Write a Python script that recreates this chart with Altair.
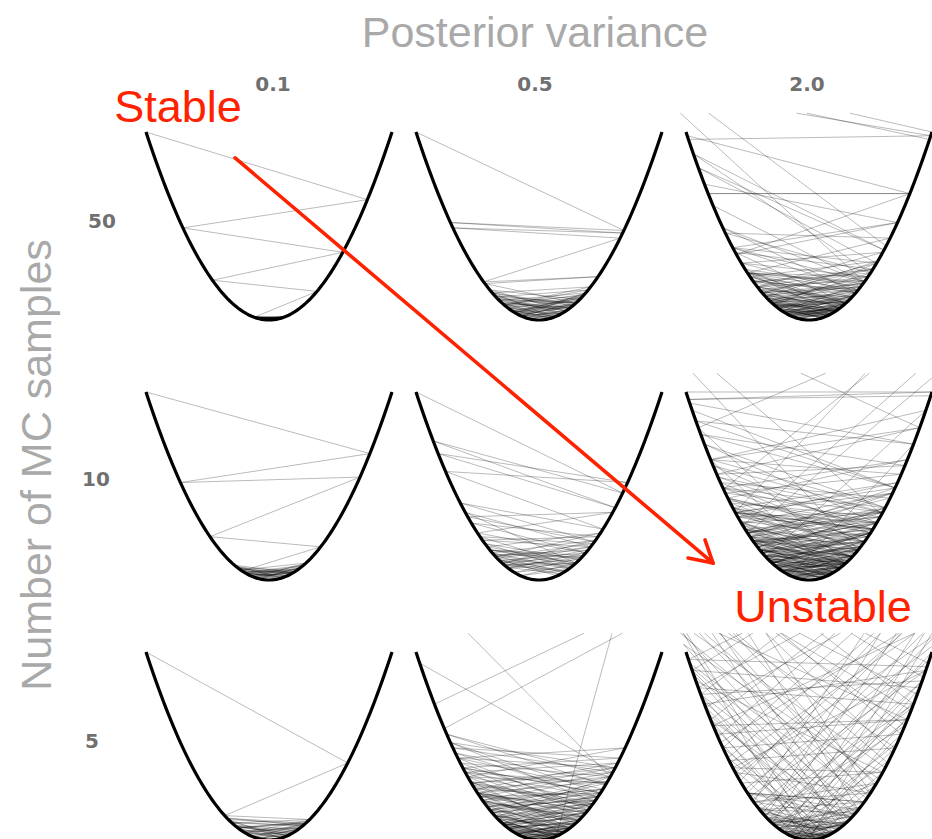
import altair as alt
import pandas as pd

# ---------------- data ----------------
VARIANCE_LABELS = ["0.1", "0.5", "2.0"]          # columns
SAMPLE_LABELS = ["50", "10", "5"]                # rows

# Iterates x_t of the optimiser on f(x) = x^2, one list per run.
# Consecutive iterates are joined by a chord of the parabola.
P_50_01 = [[-1.0, 0.80, -0.70, 0.60, -0.46, 0.39, -0.12, 0.10, -0.14, 0.08, -0.11, 0.13,
            -0.07, 0.12, -0.10, 0.06, -0.13, 0.11, -0.05, 0.09, -0.12, 0.14, -0.08, 0.04,
            -0.10, 0.12, -0.09, 0.07, -0.11, 0.10, -0.06, 0.13, -0.12, 0.08]]
P_10_01 = [[-1.0, 0.82, -0.72, 0.74, -0.48, 0.42, -0.22, 0.20, -0.25, 0.18, -0.15, 0.28,
            -0.20, 0.12, -0.26, 0.22, -0.10, 0.25, -0.18, 0.15, -0.23, 0.30, -0.12, 0.20,
            -0.28, 0.10, -0.20, 0.24, -0.16, 0.19, -0.24, 0.08, -0.14, 0.21, -0.19, 0.27,
            -0.08, 0.17]]
P_5_01 = [[-1.0, 0.64, -0.36, 0.33, -0.30, 0.28, -0.34, 0.30, -0.25, 0.32, -0.20, 0.27,
           -0.31, 0.15, -0.28, 0.24, -0.12, 0.30, -0.26, 0.20, -0.18, 0.29, -0.33, 0.10,
           -0.22, 0.26, -0.15, 0.22, -0.27, 0.18, -0.08, 0.25, -0.20, 0.12, -0.24, 0.16,
           -0.10, 0.20]]
P_50_05 = [[-1.0, 0.69, -0.72, 0.68, -0.70, 0.66, -0.45, 0.48, -0.44, 0.30, -0.35, 0.40,
            -0.28, 0.42, -0.38, 0.25, -0.30, 0.36, -0.20, 0.33, -0.40, 0.22, -0.32, 0.38,
            -0.15, 0.30, -0.36, 0.18, -0.25, 0.34, -0.22, 0.28, -0.38, 0.12, -0.30, 0.26,
            -0.18, 0.35, -0.27, 0.20, -0.33, 0.30, -0.10, 0.24, -0.28, 0.37, -0.20, 0.15,
            -0.26, 0.32, -0.14, 0.22, -0.34, 0.28, -0.24, 0.10, -0.20, 0.27, -0.16, 0.12,
            -0.22, 0.18, -0.08, 0.20, -0.15, 0.10]]
P_10_05 = [[-1.0, 0.68, -0.86, 0.62, -0.82, 0.72, -0.76, 0.52, -0.64, 0.45, -0.58, 0.60,
            -0.50, 0.38, -0.55, 0.48, -0.46, 0.42, -0.60, 0.30, -0.42, 0.50, -0.35, 0.44,
            -0.48, 0.28, -0.40, 0.36, -0.30, 0.46, -0.38, 0.25, -0.44, 0.33, -0.28, 0.40,
            -0.36, 0.20, -0.32, 0.38, -0.25, 0.30, -0.40, 0.34, -0.20, 0.27, -0.34, 0.42,
            -0.30, 0.18, -0.26, 0.35, -0.37, 0.24, -0.15, 0.30, -0.28, 0.22, -0.33, 0.15]]
P_5_05 = [[-0.97, 0.60, -0.70, 0.66, -0.62, 0.50, -0.72, 0.45, -0.55, 0.62, -0.50, 0.40,
           -0.66, 0.52, -0.45, 0.35, -0.60, 0.55, -0.40, 0.48, -0.52, 0.30, -0.46, 0.58,
           -0.35, 0.42, -0.56, 0.25, -0.42, 0.50, -0.30, 0.38, -0.48, 0.44, -0.25, 0.32,
           -0.50, 0.20, -0.38, 0.46, -0.28, 0.35, -0.44, 0.15, -0.32, 0.40, -0.20, 0.28,
           -0.36, 0.22, -0.15, 0.34, -0.30, 0.10, -0.26, 0.30, -0.18, 0.24, -0.34, 0.12,
           -0.22, 0.27, -0.10, 0.20, -0.28, 0.16, -0.14, 0.25, -0.20, 0.08, -0.16, 0.18,
           -0.24, 0.10, -0.12, 0.20, -0.06, 0.14],
          [-0.72, 0.62, -0.66, 0.70, -0.58, 0.55, -0.68, 0.48, -0.60, 0.64, -0.52, 0.58,
           -0.64, 0.42, -0.55, 0.60, -0.48, 0.50, -0.62, 0.38, -0.50, 0.56, -0.42, 0.46,
           -0.58, 0.32, -0.46, 0.52, -0.38, 0.44, -0.54, 0.28, -0.40, 0.48, -0.34, 0.40,
           -0.50, 0.24, -0.36, 0.44, -0.28, 0.36, -0.45, 0.20, -0.30, 0.38, -0.24, 0.32,
           -0.40, 0.16, -0.26, 0.30, -0.18, 0.26, -0.34, 0.12, -0.20, 0.22, -0.10, 0.18],
          [-1.24, 0.58, -0.75, 0.54],
          [-0.85, 1.16],
          [-0.77, 1.12],
          [2.24, 0.14, -0.30, 0.20]]
P_50_2 = [[-0.99, 0.82, -0.82, 0.82, -0.59, 0.72, -0.62, 0.55, -0.90, 0.61, -0.94, 0.50,
           -0.68, 0.66, -0.50, 0.45, -0.70, 0.38, -0.55, 0.60, -0.42, 0.52, -0.60, 0.30,
           -0.48, 0.56, -0.35, 0.40, -0.62, 0.45, -0.30, 0.50, -0.45, 0.25, -0.52, 0.42,
           -0.38, 0.55, -0.28, 0.35, -0.50, 0.20, -0.40, 0.48, -0.32, 0.30, -0.46, 0.38,
           -0.22, 0.44, -0.36, 0.15, -0.30, 0.40, -0.25, 0.32, -0.42, 0.26, -0.18, 0.36,
           -0.34, 0.22, -0.28, 0.30, -0.12, 0.25, -0.38, 0.18, -0.20, 0.34, -0.26, 0.10,
           -0.30, 0.24, -0.15, 0.28, -0.22, 0.16, -0.32, 0.20, -0.08, 0.26, -0.18, 0.12,
           -0.24, 0.22, -0.14, 0.30, -0.10, 0.18],
          [-0.55, 0.48, -0.50, 0.40, -0.45, 0.52, -0.38, 0.44, -0.50, 0.30, -0.42, 0.46,
           -0.32, 0.38, -0.48, 0.28, -0.36, 0.42, -0.26, 0.35, -0.40, 0.22, -0.30, 0.36,
           -0.20, 0.30, -0.34, 0.18, -0.25, 0.32, -0.16, 0.26, -0.28, 0.14, -0.20, 0.24,
           -0.10, 0.20, -0.22, 0.12],
          [-1.117, 0.627], [-0.98, 0.99], [-1.10, 0.99], [-1.12, 0.98], [-1.15, 1.0],
          [-0.85, 0.72], [-0.78, 0.45], [-1.05, 0.45]]
P_10_2 = [[-0.97, 0.85, -0.92, 0.70, -0.88, 0.78, -0.75, 0.90, -0.80, 0.62, -0.85, 0.55,
           -0.70, 0.80, -0.66, 0.50, -0.78, 0.60, -0.58, 0.72, -0.62, 0.45, -0.72, 0.66,
           -0.50, 0.58, -0.64, 0.40, -0.55, 0.68, -0.45, 0.52, -0.60, 0.35, -0.50, 0.60,
           -0.40, 0.48, -0.56, 0.30, -0.44, 0.55, -0.35, 0.42, -0.52, 0.25, -0.38, 0.50,
           -0.30, 0.44, -0.48, 0.20, -0.42, 0.36, -0.25, 0.46, -0.36, 0.30, -0.46, 0.15,
           -0.32, 0.40, -0.20, 0.34, -0.40, 0.26, -0.28, 0.38, -0.15, 0.30, -0.36, 0.20,
           -0.22, 0.32, -0.30, 0.10, -0.26, 0.28, -0.12, 0.22, -0.32, 0.16, -0.20, 0.26,
           -0.08, 0.18, -0.24, 0.12, -0.16, 0.20, -0.10, 0.14],
          [0.95, -0.80, 0.75, -0.68, 0.60, -0.74, 0.52, -0.60, 0.70, -0.48, 0.56, -0.42,
           0.62, -0.38, 0.45, -0.52, 0.35, -0.46, 0.40, -0.30, 0.50, -0.34, 0.28, -0.40,
           0.36, -0.22, 0.30, -0.28, 0.18, -0.34, 0.24, -0.14, 0.26, -0.20, 0.12],
          [-0.65, 0.55, -0.60, 0.68, -0.50, 0.62, -0.70, 0.45, -0.58, 0.52, -0.66, 0.40,
           -0.48, 0.60, -0.55, 0.35, -0.62, 0.50, -0.42, 0.58, -0.52, 0.30, -0.45, 0.55,
           -0.38, 0.48, -0.60, 0.42, -0.32, 0.50, -0.46, 0.38, -0.54, 0.28, -0.40, 0.45,
           -0.30, 0.52, -0.44, 0.32, -0.36, 0.40, -0.26, 0.34, -0.48, 0.25, -0.34, 0.42,
           -0.22, 0.30, -0.40, 0.20, -0.28, 0.36, -0.18, 0.26, -0.32, 0.15, -0.24, 0.30,
           -0.12, 0.20],
          [-1.151, 0.591], [-0.695, 1.215], [-0.538, 1.114], [-1.0, 1.0, -0.98, 0.99],
          [-1.20, 0.90], [-0.90, 1.18], [1.30, -0.60], [-0.90, 0.30], [0.95, -0.35],
          [-0.80, 0.20], [0.85, -0.15], [-1.10, 0.40], [1.05, -0.50], [0.70, -0.95]]
P_5_2 = [[-0.95, 1.35], [-0.88, 1.38], [-0.80, 1.30], [-0.72, 1.12], [-0.66, 1.22],
         [-0.60, 1.05], [-0.52, 1.02], [-0.46, 1.10], [-0.40, 0.85], [-0.33, 0.92],
         [-0.27, 0.80], [-0.20, 0.72], [-0.12, 0.75], [-0.05, 0.60], [-0.90, 1.25],
         [-0.70, 1.28], [-0.58, 1.15], [-0.42, 0.98], [-0.30, 1.00], [-0.15, 0.90],
         [-0.62, 0.95], [-0.36, 0.78], [-0.24, 0.92], [-0.08, 0.70], [-0.50, 1.18],
         [-0.78, 1.08],
         [0.93, -1.33], [0.85, -1.35], [0.78, -1.25], [0.70, -1.15], [0.64, -1.20],
         [0.57, -1.02], [0.50, -1.05], [0.44, -1.12], [0.38, -0.88], [0.31, -0.95],
         [0.25, -0.82], [0.18, -0.70], [0.10, -0.78], [0.03, -0.62], [0.88, -1.22],
         [0.68, -1.30], [0.55, -1.12], [0.40, -0.96], [0.28, -1.02], [0.13, -0.88],
         [0.60, -0.92], [0.34, -0.80], [0.22, -0.94], [0.06, -0.72], [0.48, -1.20],
         [0.80, -1.10],
         [-0.98, 1.30], [-0.84, 1.20], [-0.74, 1.32], [-0.64, 1.10], [-0.56, 1.25],
         [-0.48, 0.95], [-0.38, 1.05], [-0.32, 0.84], [-0.22, 0.86], [-0.18, 0.65],
         [-0.02, 0.82], [0.05, 0.55],
         [0.97, -1.28], [0.83, -1.22], [0.75, -1.30], [0.62, -1.08], [0.54, -1.24],
         [0.47, -0.97], [0.36, -1.06], [0.30, -0.86], [0.20, -0.84], [0.16, -0.66],
         [0.02, -0.80], [-0.06, -0.52],
         [-0.20, 1.20], [0.25, -1.25], [-0.10, 1.15], [0.05, -1.10], [-0.35, 1.40],
         [0.40, -1.45], [-0.30, 1.30], [0.32, -1.28], [-0.45, 1.45], [0.50, -1.50],
         [0.00, 1.10], [-0.05, -1.08],
         [-0.95, 0.90], [-0.85, 0.95], [-0.70, 0.75], [0.80, -0.75], [-0.55, 0.60],
         [0.45, -0.50], [-0.98, 0.96], [-0.90, 0.85], [-0.78, 0.80], [-0.65, 0.70],
         [-0.50, 0.45], [0.60, -0.62], [0.92, -0.88], [-0.40, 0.38], [0.30, -0.32],
         [-0.60, 0.50, -0.45, 0.55, -0.30, 0.40, -0.50, 0.35, -0.25, 0.45, -0.40, 0.20,
          -0.35, 0.30, -0.15, 0.38, -0.28, 0.25, -0.42, 0.15, -0.20, 0.32, -0.10, 0.22,
          -0.30, 0.12, -0.18, 0.28, -0.24, 0.08, -0.14, 0.20, -0.05, 0.16, -0.22, 0.10],
         [-0.45, 0.35, -0.30, 0.42, -0.20, 0.28, -0.38, 0.18, -0.12, 0.30, -0.26, 0.14,
          -0.34, 0.24, -0.08, 0.20, -0.18, 0.10]]

PANELS = {
    (0, 0): P_50_01, (0, 1): P_50_05, (0, 2): P_50_2,
    (1, 0): P_10_01, (1, 1): P_10_05, (1, 2): P_10_2,
    (2, 0): P_5_01, (2, 1): P_5_05, (2, 2): P_5_2,
}

# sampling of the objective curve x in [-1, 1]
PARABOLA_X = [round(-1 + i * 0.02, 2) for i in range(101)]

# ---------------- layout (global coordinate system, panel units) ----------------
COL_STEP = 2.1951       # horizontal distance between panel centres
ROW_STEP = 1.3830       # vertical distance between panel baselines
Y_CLIP = 1.1            # panels are clipped just above the curve's top
X_DOMAIN = [-2.18699, 5.39024]
Y_DOMAIN = [-2.76064, 1.70213]

# ---------------- build tables ----------------
seg_rows = []
for (r, c), runs in PANELS.items():
    ox, oy = c * COL_STEP, -r * ROW_STEP
    for run in runs:
        for a, b in zip(run[:-1], run[1:]):
            x1, y1, x2, y2 = a, a * a, b, b * b
            if y1 > Y_CLIP and y2 > Y_CLIP:
                continue
            if y1 > Y_CLIP:
                t = (Y_CLIP - y1) / (y2 - y1)
                x1, y1 = x1 + t * (x2 - x1), Y_CLIP
            if y2 > Y_CLIP:
                t = (Y_CLIP - y2) / (y1 - y2)
                x2, y2 = x2 + t * (x1 - x2), Y_CLIP
            seg_rows.append({"x": x1 + ox, "y": y1 + oy, "x2": x2 + ox, "y2": y2 + oy})
segs = pd.DataFrame(seg_rows)

curve_rows = []
for (r, c) in PANELS:
    for i, xv in enumerate(PARABOLA_X):
        curve_rows.append({"x": xv + c * COL_STEP, "y": xv * xv - r * ROW_STEP,
                           "panel": f"{r}-{c}", "i": i})
curve = pd.DataFrame(curve_rows)

# annotation positions (global units)
col_lab = pd.DataFrame({"x": [0.0325, 2.1626, 4.3740], "y": [1.2181] * 3, "t": VARIANCE_LABELS})
row_lab = pd.DataFrame({"x": [-1.3577, -1.4065, -1.4390], "y": [0.4894, -0.8830, -2.2766],
                        "t": SAMPLE_LABELS})
title_df = pd.DataFrame({"x": [2.1626], "y": [1.4521], "t": ["Posterior variance"]})
ytitle_df = pd.DataFrame({"x": [-1.878], "y": [-0.7713], "t": ["Number of MC samples"]})
red_txt = pd.DataFrame({"x": [-0.7398, 4.5041], "y": [1.0532, -1.6064], "t": ["Stable", "Unstable"]})
arrow = pd.DataFrame({"x": [-0.276, 3.407, 3.545], "y": [0.862, -1.266, -1.170],
                      "x2": [3.610, 3.610, 3.610], "y2": [-1.293, -1.293, -1.293]})

XS = alt.Scale(domain=X_DOMAIN, nice=False, zero=False)
YS = alt.Scale(domain=Y_DOMAIN, nice=False, zero=False)


def X(f="x"):
    return alt.X(f"{f}:Q", scale=XS, axis=None)


def Y(f="y"):
    return alt.Y(f"{f}:Q", scale=YS, axis=None)


seg_layer = alt.Chart(segs).mark_rule(color="#000000", strokeWidth=0.9, opacity=0.3).encode(
    x=X(), y=Y(), x2="x2:Q", y2="y2:Q")

curve_layer = alt.Chart(curve).mark_line(color="#000000", strokeWidth=3.2).encode(
    x=X(), y=Y(), detail="panel:N", order="i:Q")

GRAY_FONT = "Liberation Sans"
title_layer = alt.Chart(title_df).mark_text(
    font=GRAY_FONT, fontSize=43, color="#a9a9a9", align="center", baseline="alphabetic"
).encode(x=X(), y=Y(), text="t:N")

ytitle_layer = alt.Chart(ytitle_df).mark_text(
    font=GRAY_FONT, fontSize=43, color="#a9a9a9", align="center", baseline="middle", angle=270
).encode(x=X(), y=Y(), text="t:N")

col_layer = alt.Chart(col_lab).mark_text(
    font="DejaVu Sans", fontSize=20, fontWeight="bold", color="#707070", align="center",
    baseline="alphabetic"
).encode(x=X(), y=Y(), text="t:N")

row_layer = alt.Chart(row_lab).mark_text(
    font="DejaVu Sans", fontSize=20, fontWeight="bold", color="#707070", align="center",
    baseline="alphabetic"
).encode(x=X(), y=Y(), text="t:N")

red_layer = alt.Chart(red_txt).mark_text(
    font="Liberation Sans", fontSize=45, color="#ff2200", align="center", baseline="alphabetic"
).encode(x=X(), y=Y(), text="t:N")

arrow_layer = alt.Chart(arrow).mark_rule(color="#ff2200", strokeWidth=3.6, strokeCap="round").encode(
    x=X(), y=Y(), x2="x2:Q", y2="y2:Q")

chart = alt.layer(
    seg_layer, curve_layer, title_layer, ytitle_layer, col_layer, row_layer, arrow_layer, red_layer
).properties(
    width=932, height=839, autosize=alt.AutoSizeParams(type="none"), padding=0,
    background="white"
).configure_view(strokeWidth=0)

chart.save("out.html", embed_options={"renderer": "svg", "actions": False})
